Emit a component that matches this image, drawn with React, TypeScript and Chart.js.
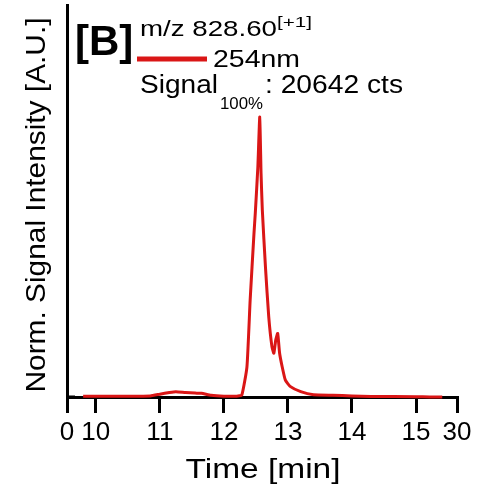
import React, { useEffect, useRef } from "react";
import { Chart, registerables } from "chart.js";

Chart.register(...registerables);

// Retention time (min) and normalized signal (% of 20642 cts)
const times = [5.6, 7, 8, 9, 10, 10.5, 10.85, 11.0, 11.15, 11.25, 11.4, 11.55, 11.65, 11.8, 12.0, 12.2, 12.28, 12.36, 12.41, 12.47, 12.49, 12.53, 12.56, 12.58, 12.6, 12.65, 12.7, 12.75, 12.78, 12.81, 12.84, 12.87, 12.91, 12.96, 13.04, 13.2, 13.4, 13.7, 14.0, 14.3, 15, 20, 24.6];
const intensity = [0.3, 0.3, 0.3, 0.3, 0.3, 0.3, 0.4, 1.0, 1.6, 1.9, 1.6, 1.4, 1.3, 0.6, 0.3, 0.3, 0.7, 10.8, 34.6, 58.5, 65.6, 82, 100, 80, 66.8, 46, 28.7, 18, 15.6, 20.4, 22.7, 15.6, 10.8, 6, 3.7, 1.9, 0.8, 0.6, 0.4, 0.2, 0.1, 0, 0];
const tickValues = [0, 10, 11, 12, 13, 14, 15, 30];

const xTitle = "Time [min]";
const yTitle = "Norm. Signal Intensity [A.U.]";
const panelLabel = "[B]";
const massLabel = "m/z 828.60";
const chargeLabel = "[+1]";
const seriesLabel = "254nm";
const signalLabel = "Signal";
const signalSub = "100%";
const signalValue = ": 20642 cts";

const RED = "rgb(218,22,22)";
const FONT = "'Liberation Sans', Arial, sans-serif";

// broken axis: 0-10 compressed, 10-15 linear, 15-30 compressed
function toAxis(t: number): number {
  if (t <= 10) return (0.45 * t) / 10;
  if (t <= 15) return t - 10 + 0.45;
  return 5.45 + ((t - 15) / 15) * 0.64;
}

function drawStretched(
  ctx: CanvasRenderingContext2D,
  text: string,
  x: number,
  y: number,
  font: string,
  targetW: number,
  align: "left" | "center"
) {
  ctx.font = font;
  const w = ctx.measureText(text).width;
  const sx = targetW / w;
  ctx.save();
  ctx.translate(x, y);
  ctx.scale(sx, 1);
  ctx.textAlign = "left";
  ctx.textBaseline = "alphabetic";
  ctx.fillText(text, align === "center" ? -w / 2 : 0, 0);
  ctx.restore();
}

const annotations = {
  id: "annotations",
  afterDraw(chart: any) {
    const ctx: CanvasRenderingContext2D = chart.ctx;
    const yScale = chart.scales.y;
    const area = chart.chartArea;
    ctx.save();
    ctx.fillStyle = "#000";
    // inward y tick at 0
    ctx.strokeStyle = "#000";
    ctx.lineWidth = 3;
    const y0 = yScale.getPixelForValue(0);
    ctx.beginPath();
    ctx.moveTo(area.left, y0);
    ctx.lineTo(area.left + 8, y0);
    ctx.stroke();

    // panel label
    ctx.font = `bold 42px ${FONT}`;
    ctx.textAlign = "left";
    ctx.textBaseline = "alphabetic";
    ctx.fillText(panelLabel, 75, 55);

    drawStretched(ctx, massLabel, 140, 36, `22px ${FONT}`, 137, "left");
    drawStretched(ctx, chargeLabel, 277, 27, `14px ${FONT}`, 35, "left");

    // legend line
    ctx.strokeStyle = RED;
    ctx.lineWidth = 5;
    ctx.beginPath();
    ctx.moveTo(137, 59);
    ctx.lineTo(207, 59);
    ctx.stroke();
    drawStretched(ctx, seriesLabel, 213, 67, `24px ${FONT}`, 87, "left");

    drawStretched(ctx, signalLabel, 140, 93, `25px ${FONT}`, 78, "left");
    drawStretched(ctx, signalSub, 220, 109, `16px ${FONT}`, 43, "left");
    drawStretched(ctx, signalValue, 265, 93, `25px ${FONT}`, 138, "left");

    // axis titles
    drawStretched(ctx, xTitle, 263, 478, `27px ${FONT}`, 155, "center");
    ctx.save();
    ctx.translate(45, 205);
    ctx.rotate(-Math.PI / 2);
    drawStretched(ctx, yTitle, 0, 0, `28px ${FONT}`, 375, "center");
    ctx.restore();
    ctx.restore();
  },
};

export default function App() {
  const ref = useRef<HTMLCanvasElement>(null);
  useEffect(() => {
    if (!ref.current) return;
    const chart = new Chart(ref.current, {
      type: "line",
      data: {
        datasets: [
          {
            data: times.map((t, i) => ({ x: toAxis(t), y: intensity[i] })),
            borderColor: RED,
            borderWidth: 3,
            pointRadius: 0,
            tension: 0.15,
            fill: false,
            clip: false as any,
          },
        ],
      },
      options: {
        animation: false,
        responsive: true,
        maintainAspectRatio: false,
        layout: { padding: { top: 5, right: 21, left: 0, bottom: 0 } },
        plugins: { legend: { display: false }, tooltip: { enabled: false } },
        scales: {
          x: {
            type: "linear",
            min: 0,
            max: toAxis(30),
            afterBuildTicks: (scale: any) => {
              scale.ticks = tickValues.map((t) => ({ value: toAxis(t) }));
            },
            afterFit: (scale: any) => {
              scale.height = 92;
            },
            ticks: {
              autoSkip: false,
              maxRotation: 0,
              padding: 4,
              color: "#000",
              font: { family: FONT, size: 26 },
              callback: (_v: any, i: number) => String(tickValues[i]),
            },
            grid: {
              display: true,
              drawOnChartArea: false,
              drawTicks: true,
              tickLength: 16,
              color: "#000",
              lineWidth: 3,
            },
            border: { display: true, color: "#000", width: 3 },
          },
          y: {
            min: 0,
            max: 140,
            afterFit: (scale: any) => {
              scale.width = 67;
            },
            ticks: { display: false },
            grid: { display: false, drawTicks: false },
            border: { display: true, color: "#000", width: 3 },
          },
        },
      },
      plugins: [annotations],
    });
    return () => chart.destroy();
  }, []);
  return (
    <div style={{ position: "fixed", left: 0, top: 0, width: 478, height: 489, background: "#fff" }}>
      <canvas ref={ref} />
    </div>
  );
}
